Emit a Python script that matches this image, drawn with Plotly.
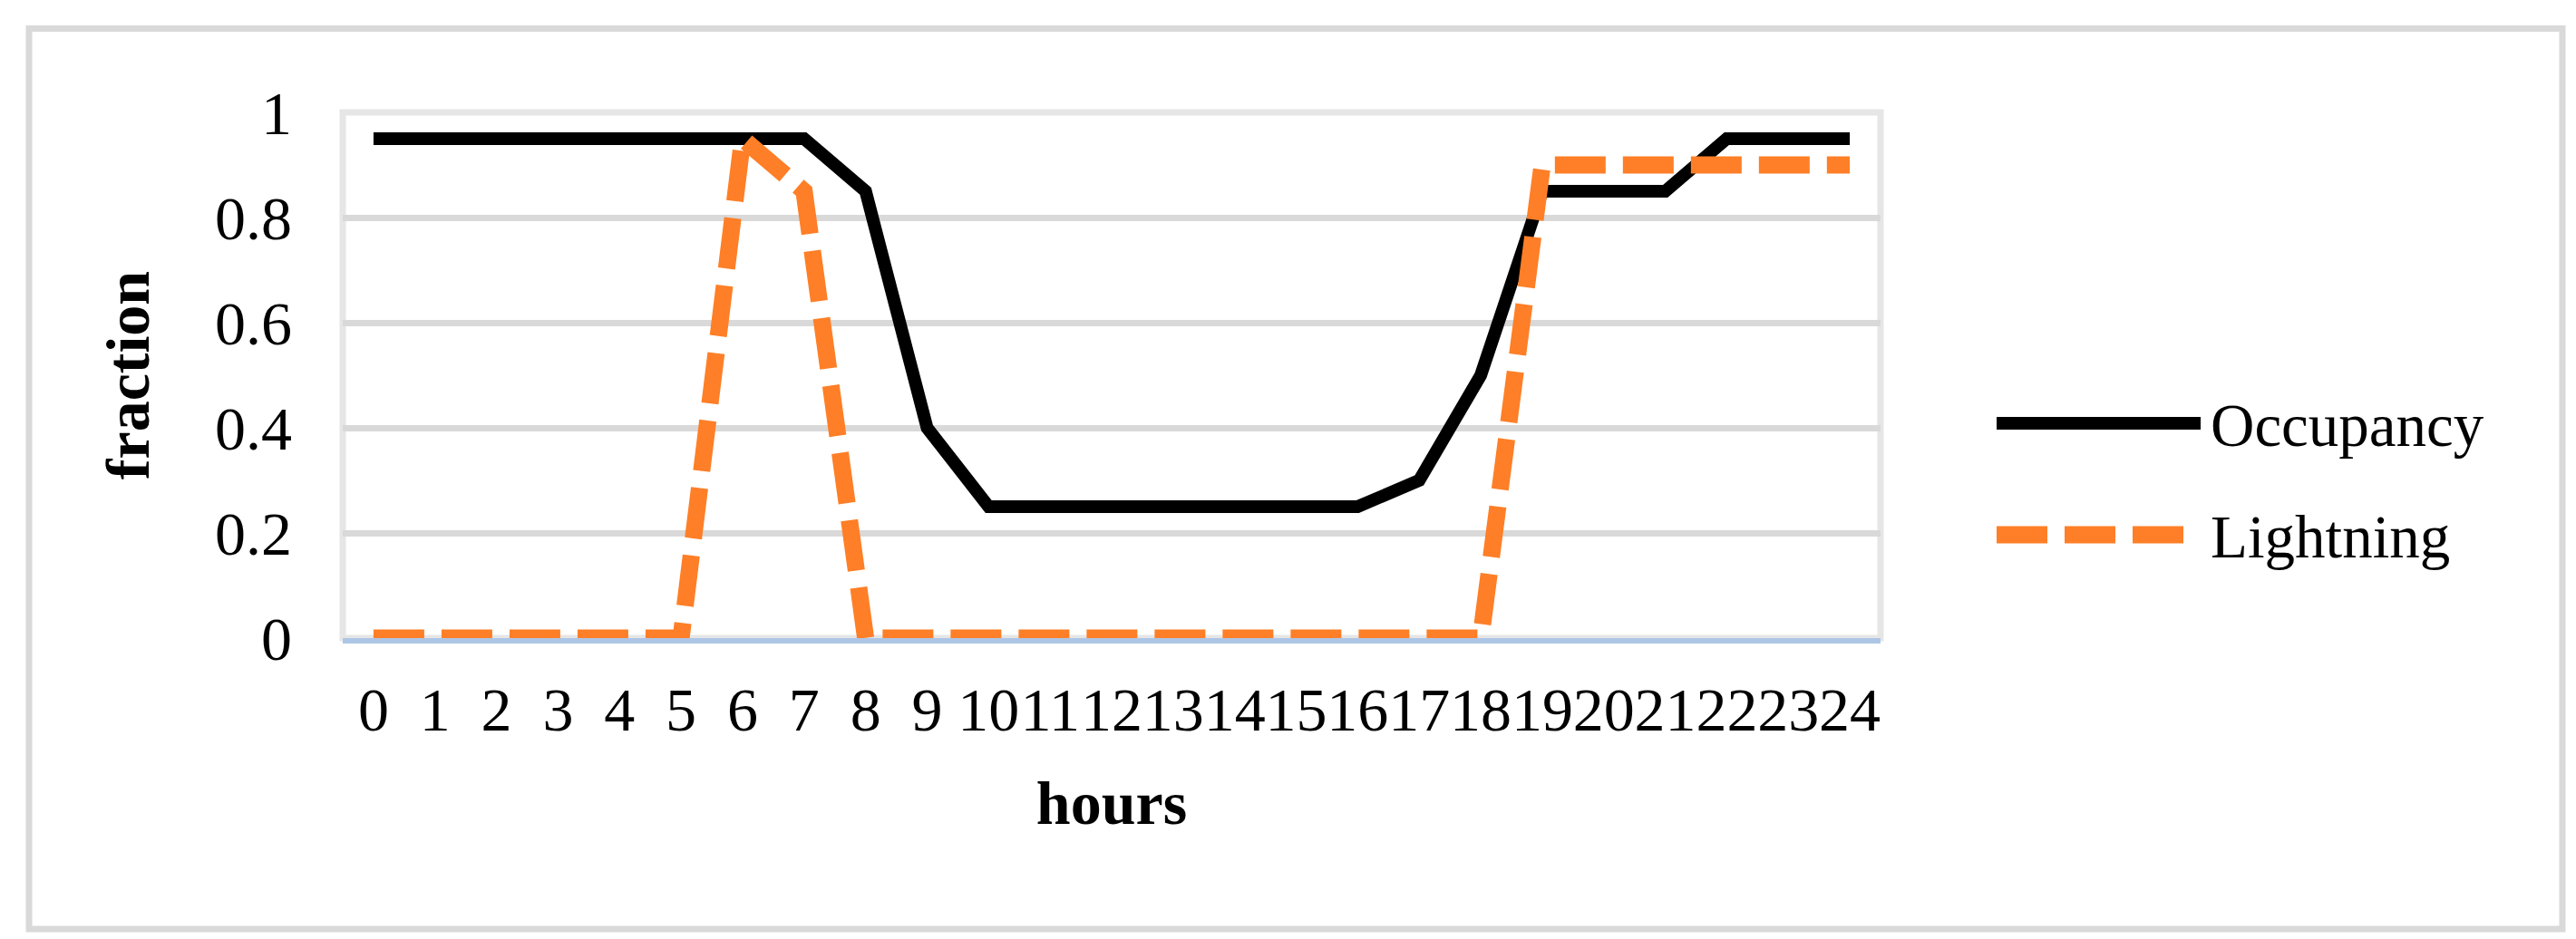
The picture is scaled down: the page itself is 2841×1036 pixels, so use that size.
import plotly.graph_objects as go

hours = list(range(25))
hour_labels = [str(h) for h in hours]
occupancy = [0.95, 0.95, 0.95, 0.95, 0.95, 0.95, 0.95, 0.95, 0.85, 0.4,
             0.25, 0.25, 0.25, 0.25, 0.25, 0.25, 0.25, 0.3, 0.5, 0.85,
             0.85, 0.85, 0.95, 0.95, 0.95]
lightning = [0, 0, 0, 0, 0, 0, 0.95, 0.85, 0, 0,
             0, 0, 0, 0, 0, 0, 0, 0, 0, 0.9,
             0.9, 0.9, 0.9, 0.9, 0.9]
y_ticks = [0, 0.2, 0.4, 0.6, 0.8, 1]
y_tick_labels = ["0", "0.2", "0.4", "0.6", "0.8", "1"]

W, H = 2841, 1036
L, R, T, B = 370, 2066, 116, 696
FONT = "Liberation Serif, Times New Roman, serif"


def px_x(v):
    return (v - L) / (R - L)


def px_y(v):
    return (B - v) / (B - T)


series = [
    ("Occupancy", occupancy, dict(color="black", width=14), 459),
    ("Lightning", lightning, dict(color="#FE7F27", width=19, dash="56px,19px"), 582),
]

fig = go.Figure()

for name, values, line, legend_y in series:
    fig.add_trace(go.Scatter(x=hours, y=values, name=name, mode="lines",
                             line=line, showlegend=False))
    # legend entry drawn by hand so the sample keeps the full line width
    fig.add_shape(type="line", xref="paper", yref="paper",
                  x0=px_x(2194), x1=px_x(2419), y0=px_y(legend_y), y1=px_y(legend_y),
                  line=line)
    fig.add_annotation(text=name, xref="paper", yref="paper",
                       x=px_x(2428), y=px_y(legend_y + 2), xanchor="left", yanchor="middle",
                       showarrow=False, font=dict(family=FONT, size=67, color="black"))

# plot area frame and outer chart border
fig.add_shape(type="rect", xref="paper", yref="paper", x0=0, x1=1, y0=0, y1=1,
              line=dict(color="#e6e6e6", width=7), layer="below")
fig.add_shape(type="rect", xref="paper", yref="paper",
              x0=px_x(24), x1=px_x(2818), y0=px_y(1017), y1=px_y(23.5),
              line=dict(color="#d9d9d9", width=7), layer="below")

fig.update_xaxes(
    range=[-0.5, 24.5], tickmode="array", tickvals=hours, ticktext=hour_labels,
    showgrid=False, zeroline=False, showline=True, linecolor="#aec6e6", linewidth=6,
    ticks="", tickangle=0, ticklabelstandoff=14,
    tickfont=dict(family=FONT, size=68, color="black"),
    title=dict(text="<b>hours</b>", font=dict(family=FONT, size=68, color="black"), standoff=44),
)
fig.update_yaxes(
    range=[0, 1], tickmode="array", tickvals=y_ticks, ticktext=y_tick_labels,
    showgrid=True, gridcolor="#d9d9d9", gridwidth=7, zeroline=False, showline=False,
    ticks="", ticklabelstandoff=55,
    tickfont=dict(family=FONT, size=68, color="black"),
    title=dict(text="<b>fraction</b>", font=dict(family=FONT, size=68, color="black"), standoff=50),
)

fig.update_layout(
    width=W, height=H,
    margin=dict(l=L, r=W - R, t=T, b=H - B, autoexpand=False),
    paper_bgcolor="white", plot_bgcolor="white",
    font=dict(family=FONT, size=68, color="black"),
    showlegend=False,
)

fig.write_html("out.html")
